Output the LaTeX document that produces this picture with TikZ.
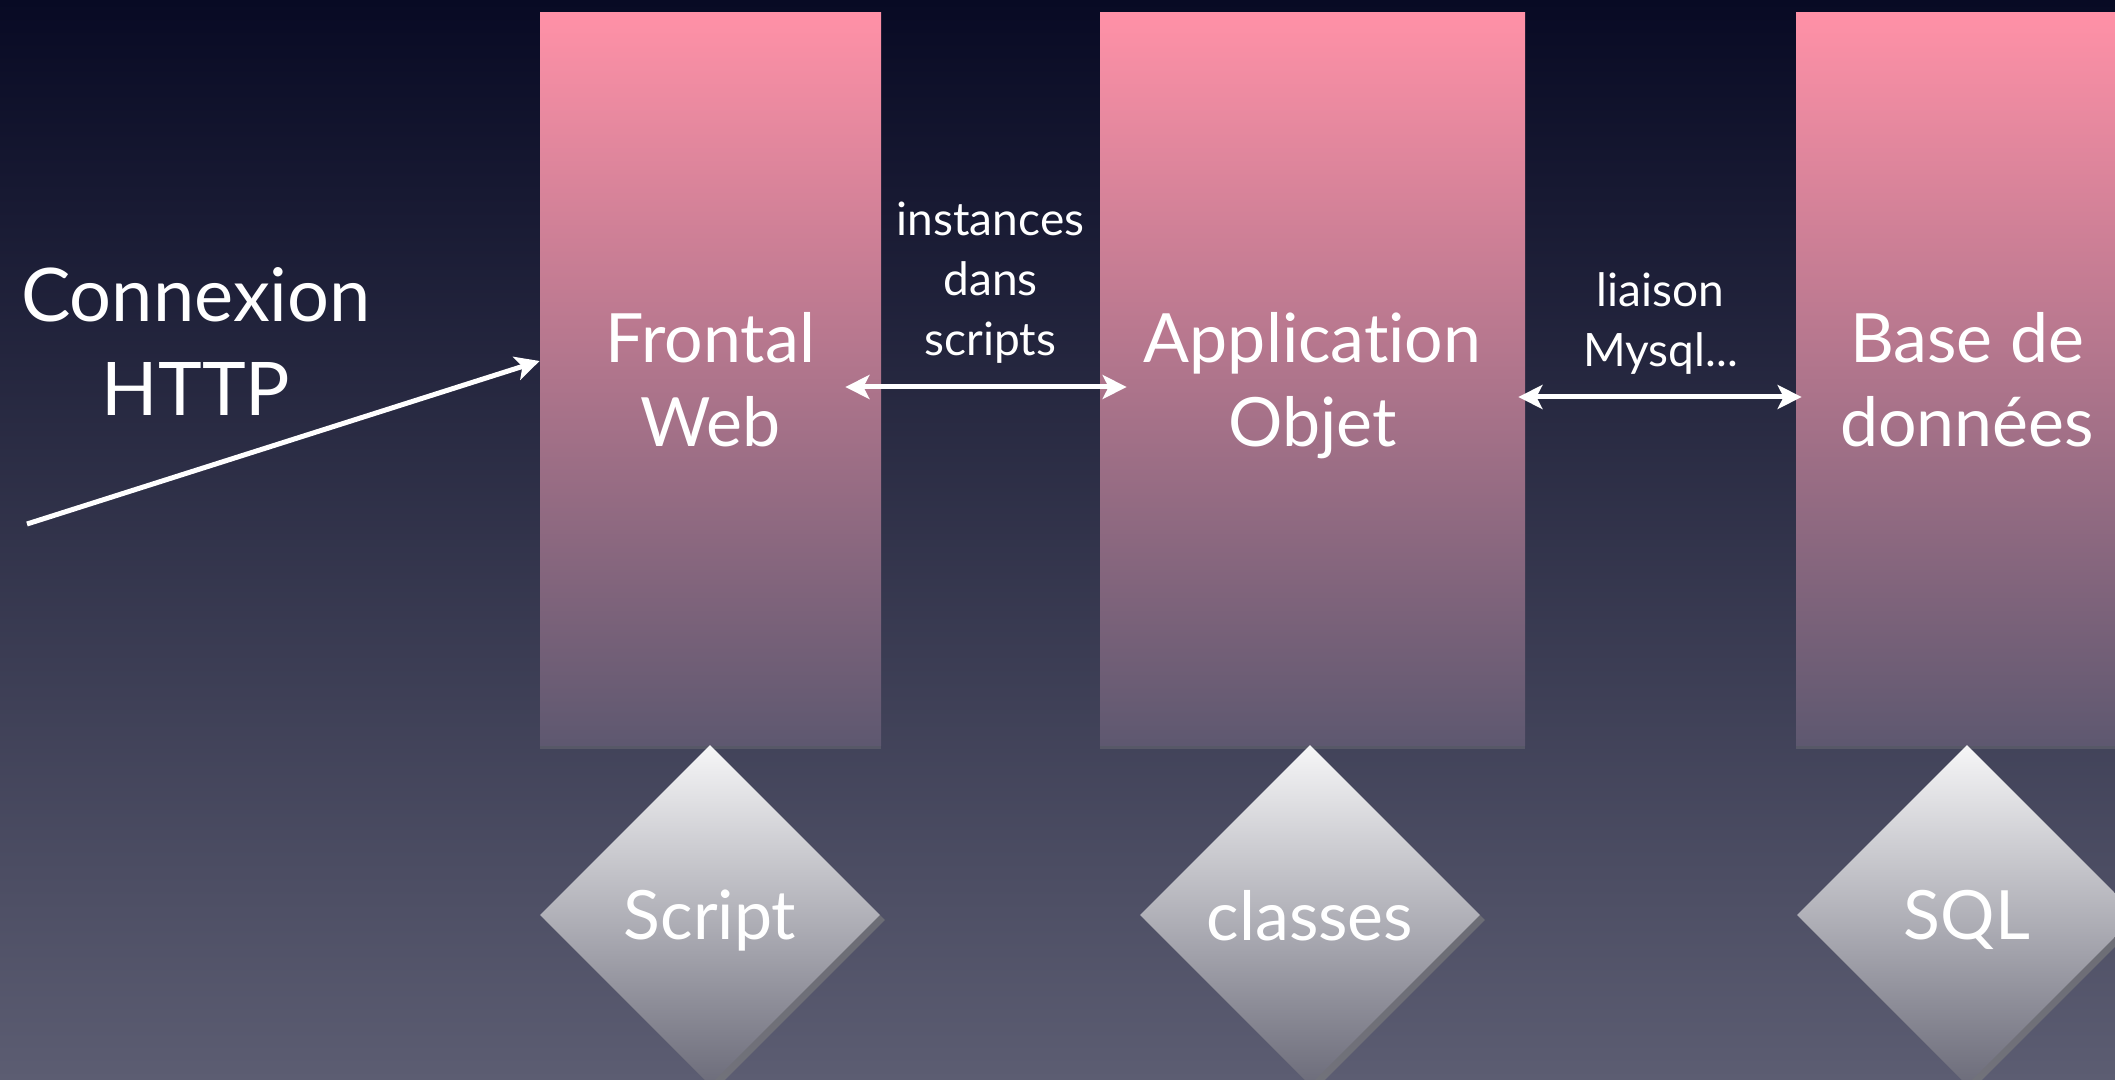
\documentclass[tikz,border=0pt]{standalone}
\usepackage{fontspec}
\setmainfont{Lato}[Ligatures=NoCommon]
\usetikzlibrary{arrows.meta,shapes.geometric,shadows}

\definecolor{bgtop}{RGB}{8,10,36}
\definecolor{bgbottom}{RGB}{92,93,114}
\definecolor{layertop}{RGB}{255,145,167}
\definecolor{layerbottom}{RGB}{94,88,112}
\definecolor{techtop}{RGB}{246,246,247}
\definecolor{techbottom}{RGB}{108,108,122}

\begin{document}
\begin{tikzpicture}[x=0.5pt, y=-0.5pt,
        >={Stealth[length=12pt, width=12pt, inset=3pt]},
        layer/.style={rectangle, top color=layertop, bottom color=layerbottom, minimum height=366pt, inner sep=0pt, text=white, align=center, text depth=0pt, font=\fontsize{34}{42}\selectfont, drop shadow={shadow xshift=0pt, shadow yshift=-2pt, opacity=.35}},
        tech/.style={diamond, aspect=1, minimum width=170pt, minimum height=170pt, inner sep=0pt, top color=techtop, bottom color=techbottom, text=white, text depth=0pt, font=\fontsize{34}{42}\selectfont, drop shadow={shadow xshift=2.5pt, shadow yshift=-2.5pt, opacity=.6}},
        link/.style={draw=white, line width=2.5pt},
        small/.style={text=white, align=center, inner sep=0pt, font=\fontsize{23}{30}\selectfont}]
                \useasboundingbox (0, 0) rectangle (2115, 1080);
                \shade[top color=bgtop, bottom color=bgbottom] (0, 0) rectangle (2115, 1080);

                \node[layer, minimum width=170.5pt] (frontal) at (710.5, 379) {Frontal\\Web};
                \node[layer, minimum width=212.5pt] (appli) at (1312.5, 379) {Application\\Objet};
                \node[layer, minimum width=171pt] (base) at (1967, 379) {Base de\\données};

                \node[tech] (script) at (710, 915) {Script};
                \node[tech] (classes) at (1310, 915) {classes};
                \node[tech] (sql) at (1967, 915) {SQL};

                \node[text=white, align=center, font=\fontsize{37}{47}\selectfont] (conn) at (196, 342) {Connexion\\HTTP};
                \coordinate (client) at (27, 524);

                \draw[link, ->] (client) -- ([yshift=9pt]frontal.west);
                \draw[link, <->, shorten <=-18pt, shorten >=-13.5pt] ([yshift=-4pt]frontal.east) -- node[small, above=10.5pt] {instances\\dans\\scripts} ([yshift=-4pt]appli.west);
                \draw[link, <->, shorten <=-3.5pt, shorten >=-3pt] ([yshift=-9pt]appli.east) -- node[small, above=10pt] {liaison\\Mysql...} ([yshift=-9pt]base.west);
            \end{tikzpicture}
\end{document}
